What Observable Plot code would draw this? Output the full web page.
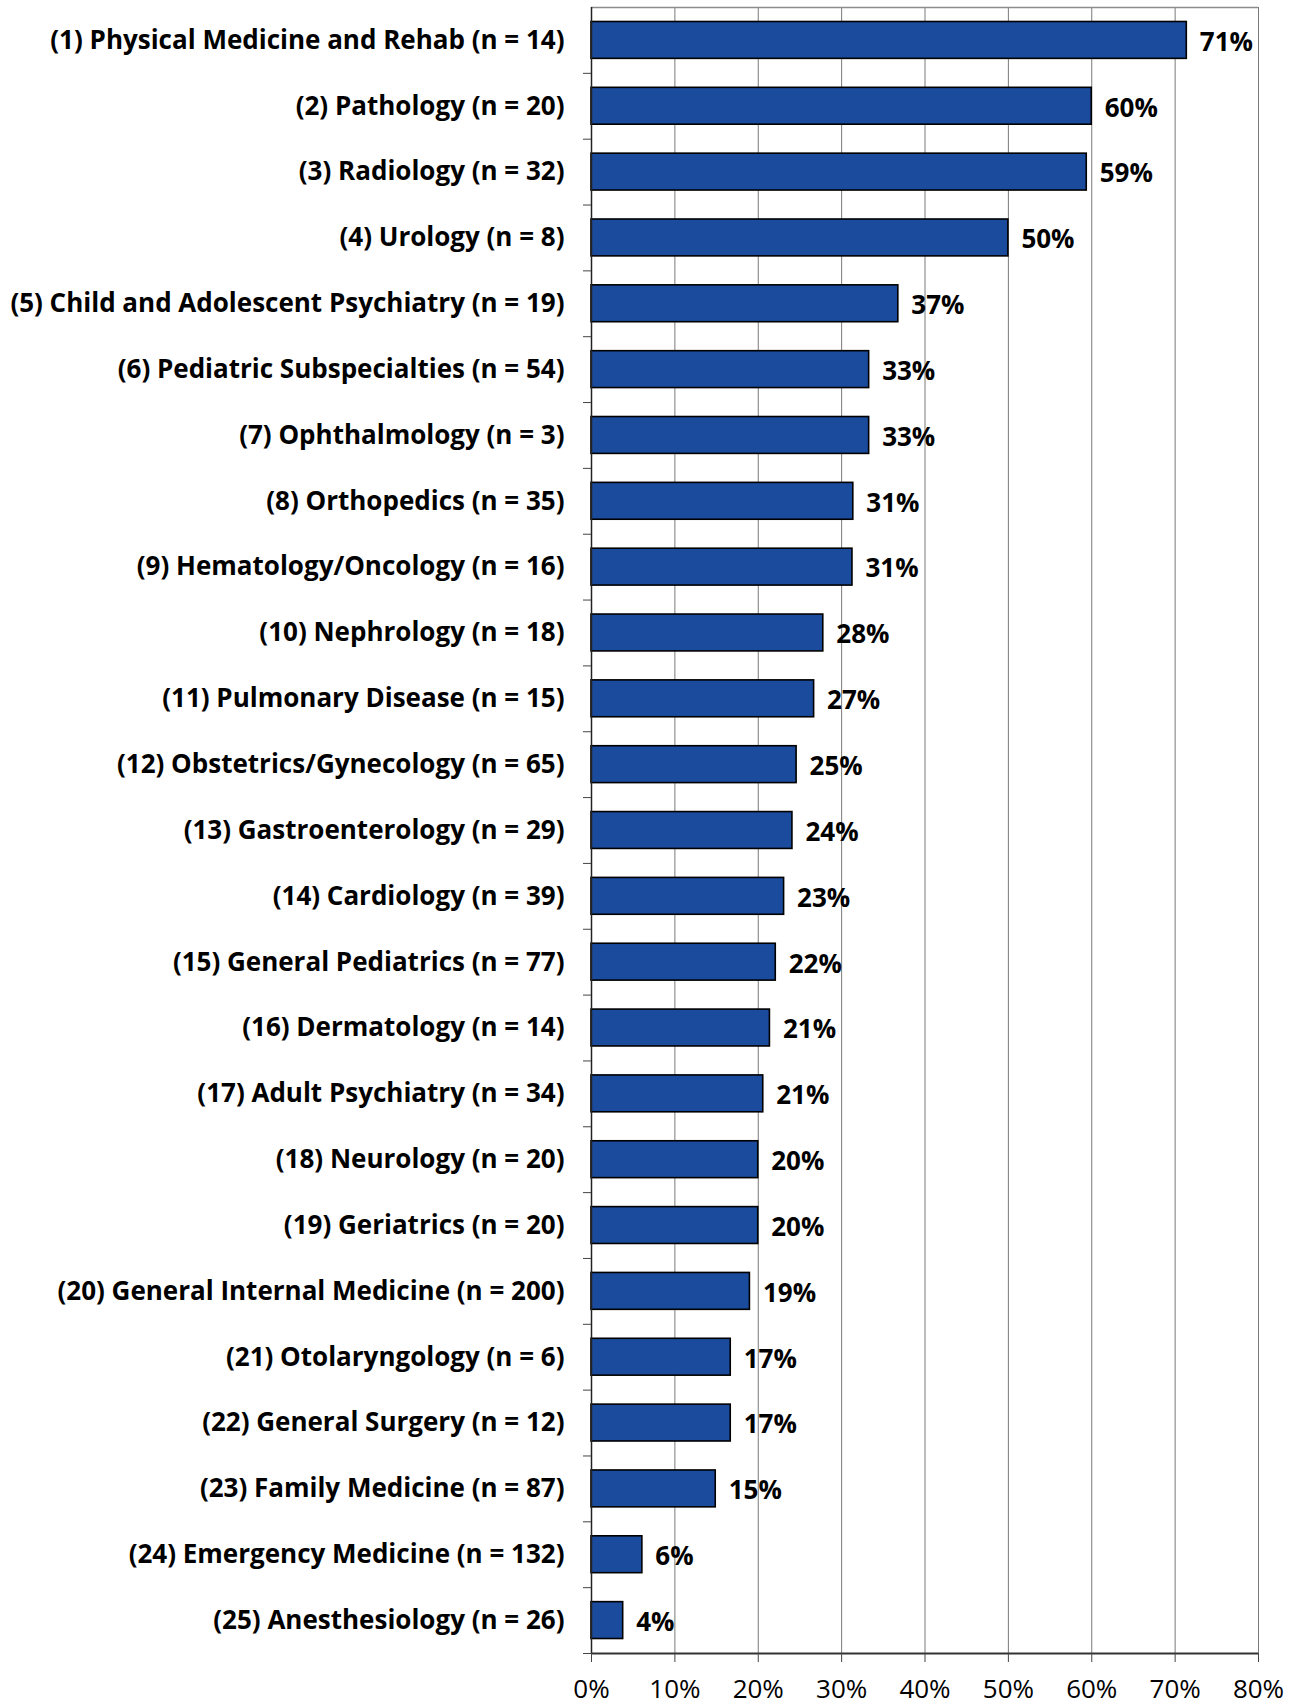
<!DOCTYPE html>
<html>
<head>
<meta charset="utf-8">
<script src="https://cdn.jsdelivr.net/npm/d3@7"></script>
<script src="https://cdn.jsdelivr.net/npm/@observablehq/plot@0.6"></script>
<style>
  html, body { margin: 0; padding: 0; background: #fff; }
  svg { display: block; }
</style>
</head>
<body>
<div id="chart"></div>
<script>
const categories = [
  "(1) Physical Medicine and Rehab (n = 14)",
  "(2) Pathology (n = 20)",
  "(3) Radiology (n = 32)",
  "(4) Urology (n = 8)",
  "(5) Child and Adolescent Psychiatry (n = 19)",
  "(6) Pediatric Subspecialties (n = 54)",
  "(7) Ophthalmology (n = 3)",
  "(8) Orthopedics (n = 35)",
  "(9) Hematology/Oncology (n = 16)",
  "(10) Nephrology (n = 18)",
  "(11) Pulmonary Disease (n = 15)",
  "(12) Obstetrics/Gynecology (n = 65)",
  "(13) Gastroenterology (n = 29)",
  "(14) Cardiology (n = 39)",
  "(15) General Pediatrics (n = 77)",
  "(16) Dermatology (n = 14)",
  "(17) Adult Psychiatry (n = 34)",
  "(18) Neurology (n = 20)",
  "(19) Geriatrics (n = 20)",
  "(20) General Internal Medicine (n = 200)",
  "(21) Otolaryngology (n = 6)",
  "(22) General Surgery (n = 12)",
  "(23) Family Medicine (n = 87)",
  "(24) Emergency Medicine (n = 132)",
  "(25) Anesthesiology (n = 26)"
];
const values = [71.4, 60.0, 59.4, 50.0, 36.8, 33.3, 33.3, 31.4, 31.3, 27.8, 26.7, 24.6, 24.1, 23.1, 22.1, 21.4, 20.6, 20.0, 20.0, 19.0, 16.7, 16.7, 14.9, 6.1, 3.8];
const valueLabels = ["71%", "60%", "59%", "50%", "37%", "33%", "33%", "31%", "31%", "28%", "27%", "25%", "24%", "23%", "22%", "21%", "21%", "20%", "20%", "19%", "17%", "17%", "15%", "6%", "4%"];
const xTicks = [0, 10, 20, 30, 40, 50, 60, 70, 80];

const data = categories.map((name, i) => ({name, value: values[i], label: valueLabels[i]}));

const W = 1297, H = 1703;
const mt = 7, mb = 50, ml = 591, mr = 39;
const step = (H - mt - mb) / categories.length;
const font = "'Open Sans', 'Noto Sans', sans-serif";

const chart = Plot.plot({
  width: W,
  height: H,
  marginTop: mt,
  marginBottom: mb,
  marginLeft: ml,
  marginRight: mr,
  style: {fontFamily: font, background: "#fff", overflow: "visible"},
  x: {domain: [0, 80], ticks: xTicks, tickFormat: d => d + "%"},
  y: {domain: categories, paddingInner: 0.44, paddingOuter: 0.22, round: false},
  marks: [
    Plot.gridX(xTicks.slice(1), {stroke: "#7a7a7a", strokeOpacity: 1, strokeWidth: 1}),
    Plot.ruleY([categories[0]], {dy: -step / 2, x1: 0, x2: 80, stroke: "#8c8c8c", strokeWidth: 1.5}),
    Plot.barX(data, {x: "value", y: "name", fill: "#1a4b9c", stroke: "#000", strokeWidth: 1.6}),
    Plot.text(data, {x: "value", y: "name", text: "label", textAnchor: "start", dx: 13, dy: 2, fontSize: 26, fontWeight: 700, fill: "#000"}),
    Plot.ruleX([0], {stroke: "#222", strokeWidth: 1.5}),
    Plot.ruleY([categories[categories.length - 1]], {dy: step / 2, x1: 0, x2: 80, stroke: "#333", strokeWidth: 1.8}),
    Plot.axisY({tickSize: 0, tickPadding: 27, fontSize: 26, fontWeight: 700, fill: "#000", label: null}),
    Plot.axisY({tickSize: 8, tickFormat: () => "", dy: step / 2, stroke: "#444", label: null}),
    Plot.axisX({ticks: xTicks, tickFormat: d => d + "%", tickSize: 9, tickPadding: 17, fontSize: 26, fill: "#000", stroke: "#444", label: null})
  ]
});
document.getElementById("chart").appendChild(chart);
</script>
</body>
</html>
